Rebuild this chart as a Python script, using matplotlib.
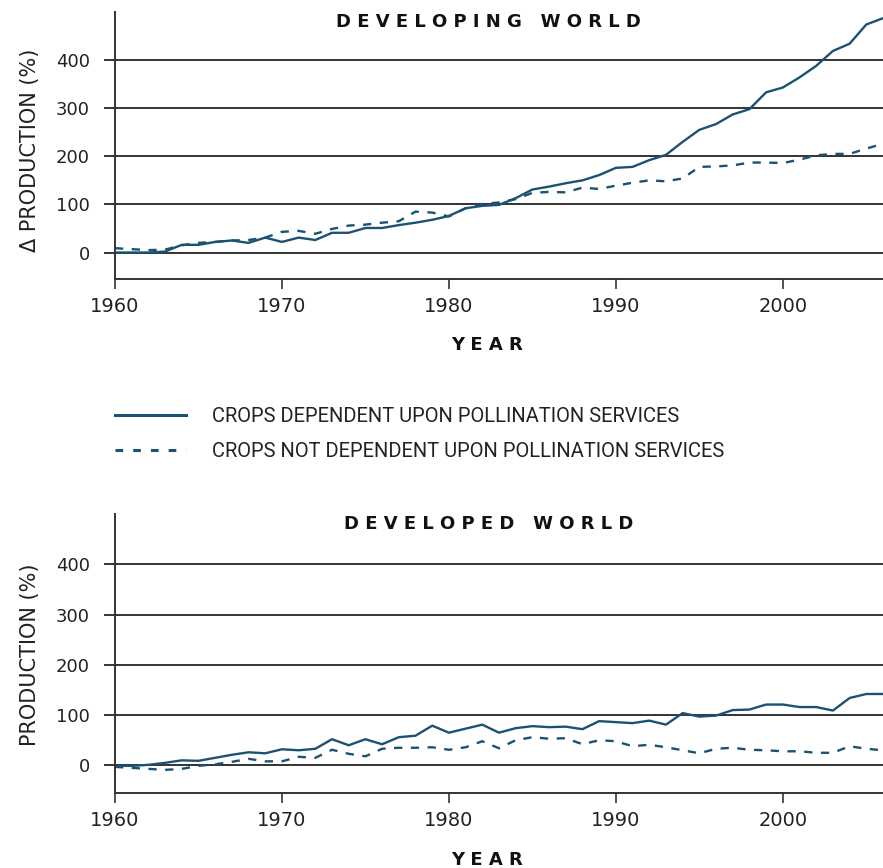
import matplotlib
matplotlib.use('Agg')
import matplotlib.pyplot as plt
from matplotlib.lines import Line2D

plt.rcParams['font.family'] = ['DejaVu Sans']

# data (% change since 1961 baseline)
years = list(range(1960, 2007))

developing_dep = [0, 0, 0, 2, 16, 16, 22, 25, 20, 31, 22, 31, 26, 41, 41, 51, 51, 57, 62, 68, 76,
                  92, 97, 99, 113, 131, 137, 144, 150, 161, 176, 178, 192, 203, 230, 255, 267,
                  287, 298, 333, 343, 364, 388, 419, 434, 474, 487]
developing_notdep = [9, 7, 5, 6, 15, 20, 22, 25, 26, 31, 43, 45, 39, 49, 56, 58, 62, 65, 85, 83, 75,
                     92, 101, 104, 111, 124, 126, 125, 135, 132, 139, 145, 150, 148, 154, 178, 179,
                     181, 187, 187, 186, 193, 202, 205, 205, 216, 226]

developed_dep = [-1, -1, 1, 5, 10, 9, 15, 21, 26, 24, 32, 30, 33, 52, 40, 52, 42, 56, 59, 79, 65,
                 73, 81, 65, 74, 78, 76, 77, 72, 88, 86, 84, 89, 81, 104, 97, 99, 110, 111, 121,
                 121, 116, 116, 109, 134, 142, 142]
developed_notdep = [-3, -5, -7, -9, -7, -1, 2, 7, 13, 8, 8, 17, 15, 31, 23, 18, 33, 35, 35, 36, 31,
                    36, 48, 34, 50, 56, 53, 54, 42, 50, 48, 38, 41, 36, 30, 24, 33, 35, 31, 30, 28,
                    28, 25, 25, 38, 33, 30]

yticks = [0, 100, 200, 300, 400]
xticks = [1960, 1970, 1980, 1990, 2000]
legend_labels = ['CROPS DEPENDENT UPON POLLINATION SERVICES',
                 'CROPS NOT DEPENDENT UPON POLLINATION SERVICES']

LINE = '#1b5273'
GRID = '#333333'
DASH = (0, (3.5, 3.6))

fig = plt.figure(figsize=(8.83, 8.68), dpi=100)
ax1 = fig.add_axes([0.1302, 0.6786, 0.8698, 0.3076])
ax2 = fig.add_axes([0.1302, 0.0864, 0.8698, 0.3214])


def setup(ax, dep, notdep, title, ylabel, ylab_y, xlab_y):
    ax.plot(years, dep, color=LINE, lw=1.7)
    ax.plot(years, notdep, color=LINE, lw=1.7, ls=DASH)
    ax.set_xlim(1960, 2006)
    ax.set_ylim(-55, 500)
    ax.set_yticks(yticks)
    ax.set_xticks(xticks)
    ax.set_axisbelow(True)
    ax.grid(axis='y', color=GRID, lw=1.4)
    for s in ['top', 'right']:
        ax.spines[s].set_visible(False)
    for s in ['left', 'bottom']:
        ax.spines[s].set_color(GRID)
        ax.spines[s].set_linewidth(1.4)
    ax.tick_params(axis='y', length=8, width=1.4, color=GRID, pad=10, labelsize=13,
                   labelcolor='#222222')
    ax.tick_params(axis='x', length=7, width=1.2, color=GRID, pad=6, labelsize=14,
                   labelcolor='#222222')
    ax.text(0.486, 0.963, title, transform=ax.transAxes, ha='center', va='center',
            fontweight='bold', fontsize=13, color='#111111')
    ax.set_ylabel(ylabel, fontsize=15, color='#222222')
    ax.yaxis.set_label_coords(-0.098, ylab_y)
    ax.set_xlabel('Y E A R', fontsize=13, fontweight='bold', color='#111111')
    ax.xaxis.set_label_coords(0.485, xlab_y)


setup(ax1, developing_dep, developing_notdep, 'D E V E L O P I N G   W O R L D',
      'Δ PRODUCTION (%)', 0.483, -0.213)
setup(ax2, developed_dep, developed_notdep, 'D E V E L O P E D   W O R L D',
      'PRODUCTION (%)', 0.495, -0.208)

handles = [Line2D([], [], color=LINE, lw=2.2),
           Line2D([], [], color=LINE, lw=2.2, ls=(0, (2.5, 3.3)))]
fig.legend(handles, legend_labels, loc='upper left', bbox_to_anchor=(0.1302, 0.5312),
           frameon=False, borderpad=0, borderaxespad=0, handlelength=3.55,
           handletextpad=1.25, labelspacing=0.8,
           prop={'family': ['Roboto', 'DejaVu Sans'], 'size': 14.5},
           labelcolor='#222222')

fig.savefig('out.png', dpi=100)
